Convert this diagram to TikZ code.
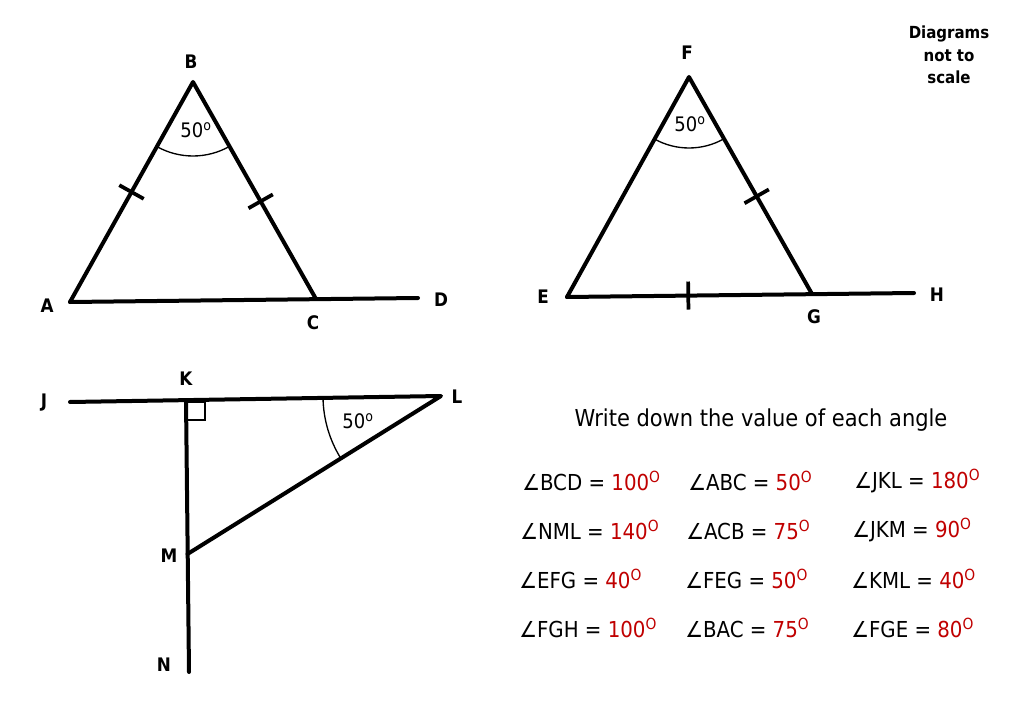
\documentclass[tikz,border=0pt]{standalone}
\usepackage{fontspec}
\setmainfont{DejaVu Sans Condensed}
\usetikzlibrary{calc}
\definecolor{ansred}{RGB}{192,0,0}
\tikzset{
  seg/.style={line width=3pt, line cap=round, line join=round},
  thin arc/.style={line width=1pt},
  tickmark/.style={line width=2.8pt},
  vlabel/.style={font=\fontsize{14}{16}\selectfont\bfseries, inner sep=0pt},
  anglab/.style={font=\fontsize{15}{17}\selectfont, inner sep=0pt},
  ans/.style={font=\fontsize{16.5}{20}\selectfont, anchor=west, inner sep=0pt},
}
\newcommand{\mydg}{\textsuperscript{o}}
\newcommand{\myans}[2]{∠#1 = \textcolor{ansred}{#2\raisebox{0.4em}{\fontsize{11.5}{12}\selectfont O}}}
\begin{document}
\begin{tikzpicture}[x=0.75pt,y=-0.75pt]
\useasboundingbox (0,0) rectangle (1024,709);
% ---- triangle ABC
\coordinate (B) at (193,82);
\coordinate (A) at (70,302);
\coordinate (C) at (316,299);
\coordinate (D) at (418,298);
\draw[seg] (A) -- (B) -- (C);
\draw[seg] (A) -- (D);
\draw[thin arc] ($(B)!74*0.75pt!(A)$) arc[start angle={atan2(-(302-82),70-193)}, end angle={atan2(-(299-82),316-193)}, radius=74*0.75pt];
\node[anglab] (b50) at (196,130) {50\mydg};
% ticks
\draw[tickmark] ($(A)!0.5!(B)!10.5pt!90:(B)$) -- ($(A)!0.5!(B)!-10.5pt!90:(B)$);
\draw[tickmark] ($(B)!0.55!(C)!10.5pt!90:(C)$) -- ($(B)!0.55!(C)!-10.5pt!90:(C)$);
\node[vlabel] (lB) at (191,62) {B};
\node[vlabel] (lA) at (47,306) {A};
\node[vlabel] (lC) at (313,323) {C};
\node[vlabel] (lD) at (441,300) {D};
% ---- triangle EFG
\coordinate (F) at (689,77);
\coordinate (E) at (567,297);
\coordinate (G) at (812,294);
\coordinate (H) at (914,293);
\draw[seg] (E) -- (F) -- (G);
\draw[seg] (E) -- (H);
\draw[thin arc] ($(F)!71*0.75pt!(E)$) arc[start angle={atan2(-(297-77),567-689)}, end angle={atan2(-(294-77),812-689)}, radius=71*0.75pt];
\node[anglab] (f50) at (690,124) {50\mydg};
\draw[tickmark] ($(F)!0.55!(G)!10.5pt!90:(G)$) -- ($(F)!0.55!(G)!-10.5pt!90:(G)$);
\draw[tickmark] ($(E)!0.495!(G)!10.5pt!90:(G)$) -- ($(E)!0.495!(G)!-10.5pt!90:(G)$);
\node[vlabel] (lF) at (687,53) {F};
\node[vlabel] (lE) at (543,297) {E};
\node[vlabel] (lG) at (814,317) {G};
\node[vlabel] (lH) at (937,295) {H};
% ---- JKLMN
\coordinate (J) at (70,402);
\coordinate (L) at (441,396);
\coordinate (K) at (186,400);
\coordinate (N) at (189,672);
\coordinate (M) at (187.5,554);
\draw[seg] (J) -- (L) -- (M);
\draw[seg] (K) -- (N);
\draw[line width=1.6pt] (186,402) -- (205,402) -- (205,420) -- (186.3,420);
\draw[thin arc] ($(L)!118*0.75pt!(J)$) arc[start angle={atan2(-(402-396),70-441)}, end angle={atan2(-(554-396),187.5-441)}, radius=118*0.75pt];
\node[anglab] (l50) at (358,421) {50\mydg};
\node[vlabel] (lJ) at (44,403) {J};
\node[vlabel] (lK) at (186,379) {K};
\node[vlabel] (lL) at (457,397) {L};
\node[vlabel] (lM) at (169,556) {M};
\node[vlabel] (lN) at (164,665) {N};
% ---- text
\node[font=\fontsize{12.5}{17}\selectfont\bfseries, align=center, inner sep=0pt] (note) at (949,55) {Diagrams\\not to\\scale};
\node[font=\fontsize{17.5}{20}\selectfont, inner sep=0pt] (title) at (761,420) {Write down the value of each angle};
\node[ans] (a1) at (522,481) {\myans{BCD}{100}};
\node[ans] (a2) at (688,481) {\myans{ABC}{50}};
\node[ans] (a3) at (854,481) {\myans{JKL}{180}};
\node[ans] (a4) at (520,530) {\myans{NML}{140}};
\node[ans] (a5) at (686,530) {\myans{ACB}{75}};
\node[ans] (a6) at (852,530) {\myans{JKM}{90}};
\node[ans] (a7) at (519,579) {\myans{EFG}{40}};
\node[ans] (a8) at (685,579) {\myans{FEG}{50}};
\node[ans] (a9) at (851,579) {\myans{KML}{40}};
\node[ans] (a10) at (519,628) {\myans{FGH}{100}};
\node[ans] (a11) at (685,628) {\myans{BAC}{75}};
\node[ans] (a12) at (851,628) {\myans{FGE}{80}};
\end{tikzpicture}
\end{document}
